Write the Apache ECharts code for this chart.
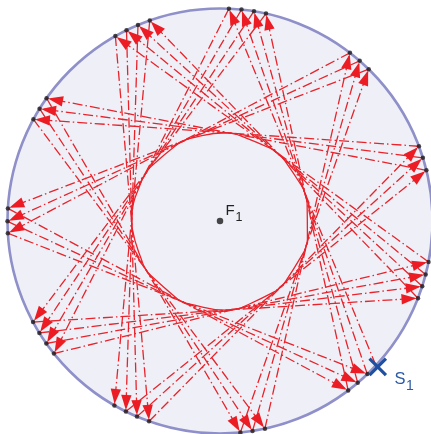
<!DOCTYPE html>
<html>
<head>
<meta charset="utf-8">
<script src="https://cdn.jsdelivr.net/npm/echarts@6/dist/echarts.min.js"></script>
<style>
  html, body { margin: 0; padding: 0; background: #ffffff; }
  #chart { width: 431px; height: 434px; }
</style>
</head>
<body>
<div id="chart"></div>
<script>
// Successive reflection points of one ray inside a circular mirror,
// in degrees counter-clockwise from the +x direction, starting at the source S1.
const bounceAngles = [
  317.2, 87.6, 218.6, 348.9, 119.5, 250.5, 20.6, 151.4, 282.2, 52.3, 183.3,
  313.9, 84.2, 215.2, 345.4, 116.1, 247.0, 17.3, 148.1, 278.8, 48.9, 180.1,
  310.4, 80.8, 211.8, 342.1, 112.7, 243.7, 13.8, 144.7, 275.5, 45.6, 176.6,
  307.1, 77.5, 208.4, 338.7, 109.3, 240.2
];
const mirrorRadius = 212.5;      // radius of the mirror (data units)
const focusPoint = [0, 0];       // F1, centre of the mirror
const focusLabel = ['F', '1'];
const sourceLabel = ['S', '1'];

const RED = '#e8232b';
const rad = a => a * Math.PI / 180;
const onMirror = a => [mirrorRadius * Math.cos(rad(a)), mirrorRadius * Math.sin(rad(a))];

const bouncePoints = bounceAngles.map(onMirror);
const sourcePoint = bouncePoints[0];

// ray segments between consecutive reflections
const segments = [];
for (let i = 0; i < bouncePoints.length - 1; i++) {
  segments.push([bouncePoints[i][0], bouncePoints[i][1], bouncePoints[i + 1][0], bouncePoints[i + 1][1]]);
}

// caustic: the curve touched by every chord, traced through the tangency
// points (feet of the perpendiculars from the centre), ordered by angle
function foot(s) {
  const dx = s[2] - s[0], dy = s[3] - s[1];
  const t = -(s[0] * dx + s[1] * dy) / (dx * dx + dy * dy);
  return [s[0] + t * dx, s[1] + t * dy];
}
const caustic = segments
  .map(foot)
  .sort((a, b) => Math.atan2(a[1], a[0]) - Math.atan2(b[1], b[0]));
caustic.push(caustic[0]);

const chart = echarts.init(document.getElementById('chart'), null, { renderer: 'canvas' });

chart.setOption({
  animation: false,
  grid: { left: 0, right: 0, top: 0, bottom: 0, containLabel: false },
  xAxis: { type: 'value', min: -220, max: 211, show: false },
  yAxis: { type: 'value', min: -213, max: 221, show: false },
  series: [
    {
      // mirror surface
      type: 'custom', z: 1, silent: true,
      data: [[focusPoint[0], focusPoint[1]]],
      encode: { x: 0, y: 1 },
      renderItem(params, api) {
        const c = api.coord([api.value(0), api.value(1)]);
        const r = api.size([mirrorRadius, mirrorRadius])[0];
        return { type: 'circle', shape: { cx: c[0], cy: c[1], r },
          style: { fill: '#eff0f7', stroke: '#8f90c9', lineWidth: 2.6 } };
      }
    },
    {
      // ray path, dash-dot
      type: 'custom', z: 2, silent: true,
      data: segments,
      encode: { x: [0, 2], y: [1, 3] },
      renderItem(params, api) {
        const p = api.coord([api.value(0), api.value(1)]);
        const q = api.coord([api.value(2), api.value(3)]);
        return { type: 'line', shape: { x1: p[0], y1: p[1], x2: q[0], y2: q[1] },
          style: { stroke: RED, lineWidth: 1.3, lineDash: [10, 3, 1.5, 3], fill: null } };
      }
    },
    {
      // caustic
      type: 'line', z: 3, silent: true,
      data: caustic, symbol: 'none', smooth: 0.5,
      lineStyle: { color: RED, width: 1.3 }
    },
    {
      // arrowheads at the end of every segment
      type: 'custom', z: 4, silent: true,
      data: segments,
      encode: { x: [0, 2], y: [1, 3] },
      renderItem(params, api) {
        const p = api.coord([api.value(0), api.value(1)]);
        const q = api.coord([api.value(2), api.value(3)]);
        const L = Math.hypot(q[0] - p[0], q[1] - p[1]);
        const ux = (q[0] - p[0]) / L, uy = (q[1] - p[1]) / L;
        const tip = [q[0] - ux * 1.5, q[1] - uy * 1.5];
        const base = [tip[0] - ux * 15, tip[1] - uy * 15];
        const w = 5.2;
        return { type: 'polygon',
          shape: { points: [tip, [base[0] - uy * w, base[1] + ux * w], [base[0] + uy * w, base[1] - ux * w]] },
          style: { fill: '#ec1c24', stroke: null } };
      }
    },
    {
      // reflection points
      type: 'scatter', z: 5, silent: true,
      data: bouncePoints.slice(1),
      symbol: 'circle', symbolSize: 4.5,
      itemStyle: { color: '#1e1e1e' }
    },
    {
      // focus F1
      type: 'scatter', z: 5, silent: true,
      data: [focusPoint],
      symbol: 'circle', symbolSize: 6.5,
      itemStyle: { color: '#1a1a1a' }
    },
    {
      // source marker and labels
      type: 'custom', z: 6, silent: true,
      data: [[sourcePoint[0], sourcePoint[1], focusPoint[0], focusPoint[1]]],
      encode: { x: [0, 2], y: [1, 3] },
      renderItem(params, api) {
        const s = api.coord([api.value(0), api.value(1)]);
        const f = api.coord([api.value(2), api.value(3)]);
        const sx = s[0] + 1.8, sy = s[1] + 1.5, h = 8.2;
        const blue = '#1f4f9f';
        return { type: 'group', children: [
          { type: 'line', shape: { x1: sx - h, y1: sy - h, x2: sx + h, y2: sy + h }, style: { stroke: blue, lineWidth: 3.2 } },
          { type: 'line', shape: { x1: sx - h, y1: sy + h, x2: sx + h, y2: sy - h }, style: { stroke: blue, lineWidth: 3.2 } },
          { type: 'text', x: s[0] + 18.5, y: s[1] + 14, style: { text: sourceLabel[0], fill: '#2b5aa6',
            font: '16.5px "Liberation Sans", Arial, sans-serif', textAlign: 'left', textVerticalAlign: 'middle' } },
          { type: 'text', x: s[0] + 30, y: s[1] + 20.5, style: { text: sourceLabel[1], fill: '#2b5aa6',
            font: '14px "Liberation Sans", Arial, sans-serif', textAlign: 'left', textVerticalAlign: 'middle' } },
          { type: 'text', x: f[0] + 5.5, y: f[1] - 10.5, style: { text: focusLabel[0], fill: '#222222',
            font: '15px "Liberation Sans", Arial, sans-serif', textAlign: 'left', textVerticalAlign: 'middle' } },
          { type: 'text', x: f[0] + 15.5, y: f[1] - 3, style: { text: focusLabel[1], fill: '#222222',
            font: '12.5px "Liberation Sans", Arial, sans-serif', textAlign: 'left', textVerticalAlign: 'middle' } }
        ] };
      }
    }
  ]
});
</script>
</body>
</html>
